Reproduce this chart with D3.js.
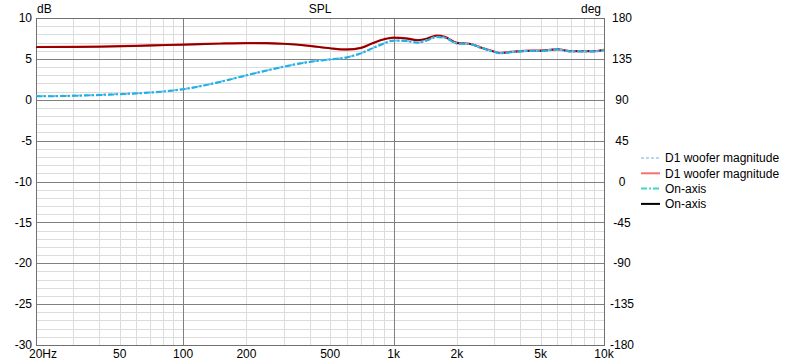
<!DOCTYPE html>
<html><head><meta charset="utf-8">
<script src="https://cdn.jsdelivr.net/npm/d3@7/dist/d3.min.js"></script>
<style>
html,body{margin:0;padding:0;background:#fff;}
svg{display:block;}
text{font-family:"Liberation Sans",Arial,sans-serif;font-size:12px;fill:#000;}
</style></head>
<body>
<svg id="chart" width="795" height="360"></svg>
<script>
// ---- data ----
const freqs = [20,30,40,50,70,100,150,200,250,300,400,500,600,700,800,900,1000,1150,1300,1450,1600,1750,2000,2300,2600,3000,3200,3600,4000,4500,5000,5500,6000,6500,7000,8000,9000,10000];
const wooferMag = [6.45,6.47,6.5,6.55,6.65,6.75,6.88,6.93,6.92,6.85,6.6,6.3,6.15,6.35,6.95,7.4,7.6,7.5,7.3,7.5,7.85,7.7,6.95,6.85,6.4,5.9,5.72,5.85,5.95,6.0,6.0,6.1,6.2,6.05,5.95,5.95,5.95,6.1];
const onAxisMag = [6.42,6.45,6.48,6.52,6.62,6.72,6.85,6.92,6.9,6.83,6.58,6.28,6.13,6.33,6.93,7.38,7.58,7.48,7.28,7.48,7.83,7.68,6.93,6.83,6.38,5.88,5.7,5.83,5.93,5.98,5.98,6.08,6.18,6.03,5.93,5.93,5.93,6.08];
const wooferMag2 = [0.45,0.5,0.6,0.7,0.9,1.3,2.2,3.0,3.6,4.05,4.65,4.95,5.2,5.7,6.35,6.9,7.25,7.2,7.0,7.3,7.7,7.6,6.9,6.82,6.38,5.88,5.7,5.83,5.93,5.98,5.98,6.08,6.18,6.03,5.93,5.93,5.93,6.08];
const onAxisMag2 = [0.42,0.48,0.58,0.68,0.88,1.28,2.18,2.98,3.58,4.03,4.63,4.93,5.18,5.68,6.33,6.88,7.23,7.18,6.98,7.28,7.68,7.58,6.88,6.8,6.36,5.86,5.68,5.81,5.91,5.96,5.96,6.06,6.16,6.01,5.91,5.91,5.91,6.06];
const xTicks = [20,50,100,200,500,1000,2000,5000,10000];
const xTickLabels = ["20Hz","50","100","200","500","1k","2k","5k","10k"];
const yTicks = [10,5,0,-5,-10,-15,-20,-25,-30];
const y2Ticks = [180,135,90,45,0,-45,-90,-135,-180];
const legendNames = ["D1 woofer magnitude","D1 woofer magnitude","On-axis","On-axis"];

// ---- layout ----
const L=36, R=604, T=18, B=345;
const svg = d3.select("#chart");
const x = d3.scaleLog().domain([20,10000]).range([L,R]);
const y = d3.scaleLinear().domain([-30,10]).range([B,T]);
const y2 = d3.scaleLinear().domain([-180,180]).range([B,T]);

// minor grid
const minorX = [];
[10,100,1000].forEach(d=>{for(let k=2;k<=9;k++){const f=d*k; if(f>20&&f<10000&&f!==100&&f!==1000) minorX.push(f);}});
const g = svg.append("g");
g.selectAll(".vx").data(minorX).enter().append("line")
 .attr("x1",d=>Math.round(x(d))+0.5).attr("x2",d=>Math.round(x(d))+0.5).attr("y1",T).attr("y2",B)
 .attr("stroke","#dcdcdc").attr("stroke-width",1);
const minorY = d3.range(-30,11).filter(v=>v%5!==0);
g.selectAll(".hy").data(minorY).enter().append("line")
 .attr("x1",L).attr("x2",R).attr("y1",d=>Math.round(y(d))+0.5).attr("y2",d=>Math.round(y(d))+0.5)
 .attr("stroke","#dcdcdc").attr("stroke-width",1);
// major grid
g.selectAll(".mx").data([100,1000]).enter().append("line")
 .attr("x1",d=>Math.round(x(d))+0.5).attr("x2",d=>Math.round(x(d))+0.5).attr("y1",T).attr("y2",B)
 .attr("stroke","#808080").attr("stroke-width",1);
g.selectAll(".my").data(yTicks.filter(v=>v>-30&&v<10)).enter().append("line")
 .attr("x1",L).attr("x2",R).attr("y1",d=>Math.round(y(d))+0.5).attr("y2",d=>Math.round(y(d))+0.5)
 .attr("stroke","#808080").attr("stroke-width",1);
// border
svg.append("rect").attr("x",L+0.5).attr("y",T+0.5).attr("width",R-L).attr("height",B-T)
 .attr("fill","none").attr("stroke","#707070").attr("stroke-width",1);

// curves
svg.append("clipPath").attr("id","clip").append("rect").attr("x",L).attr("y",T).attr("width",R-L).attr("height",B-T);
const line = d3.line().x(d=>x(d[0])).y(d=>y(d[1])).curve(d3.curveMonotoneX);
const pts = arr => freqs.map((f,i)=>[f,arr[i]]);
const cg = svg.append("g").attr("clip-path","url(#clip)");
cg.append("path").attr("d",line(pts(wooferMag))).attr("fill","none").attr("stroke","#ee0000").attr("stroke-width",2.2);
cg.append("path").attr("d",line(pts(onAxisMag))).attr("fill","none").attr("stroke","#000").attr("stroke-opacity",0.45).attr("stroke-width",1.6);
cg.append("path").attr("d",line(pts(wooferMag2))).attr("fill","none").attr("stroke","#7fc3f3").attr("stroke-width",2).attr("stroke-dasharray","4,2");
cg.append("path").attr("d",line(pts(onAxisMag2))).attr("fill","none").attr("stroke","#1cb2e6").attr("stroke-width",2).attr("stroke-dasharray","6,2,2,2");

// axes labels
svg.selectAll(".yl").data(yTicks).enter().append("text")
 .attr("x",32).attr("y",d=>y(d)).attr("dy","0.35em").attr("text-anchor","end").text(d=>d);
svg.selectAll(".y2l").data(y2Ticks).enter().append("text")
 .attr("x",622).attr("y",d=>y2(d)).attr("dy","0.35em").attr("text-anchor","middle").text(d=>d);
svg.selectAll(".xl").data(xTicks).enter().append("text")
 .attr("x",(d,i)=> i===0 ? 29 : x(d)).attr("y",358).attr("text-anchor",(d,i)=>i===0?"start":"middle")
 .text((d,i)=>xTickLabels[i]);
svg.append("text").attr("x",37).attr("y",13).text("dB");
svg.append("text").attr("x",320).attr("y",13).attr("text-anchor","middle").text("SPL");
svg.append("text").attr("x",601).attr("y",13).attr("text-anchor","end").text("deg");

// legend
const legColors = ["#b8d5f6","#f47272","#3fd8c8","#000"];
const legDash = ["3,2",null,"6,2,2,2",null];
const lg = svg.append("g");
legendNames.forEach((n,i)=>{
  const yy = 158 + i*15.3;
  lg.append("line").attr("x1",641).attr("x2",660).attr("y1",yy).attr("y2",yy)
    .attr("stroke",legColors[i]).attr("stroke-width",2).attr("stroke-dasharray",legDash[i]);
  lg.append("text").attr("x",665).attr("y",yy).attr("dy","0.35em").text(n);
});
</script>
</body></html>
